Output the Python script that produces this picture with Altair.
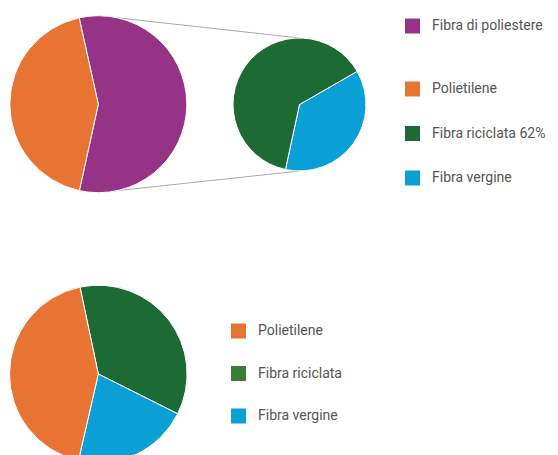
import math
import altair as alt
import pandas as pd

# ---- data ----
top_cats = ["Fibra di poliestere", "Polietilene"]
top_vals = [56.9, 43.1]

right_cats = ["Fibra vergine", "Fibra riciclata 62%"]
right_vals = [36.7, 63.3]

bottom_cats = ["Fibra riciclata", "Fibra vergine", "Polietilene"]
bottom_vals = [35.7, 21.2, 43.1]

legend_top1 = ["Fibra di poliestere"]
legend_top2 = ["Polietilene", "Fibra riciclata 62%", "Fibra vergine"]
legend_bottom = ["Polietilene", "Fibra riciclata", "Fibra vergine"]

PURPLE = "#973387"
ORANGE = "#E87434"
GREEN = "#1D6B34"
GREEN_LIGHT = "#3A7D35"
BLUE = "#0AA0D6"

FONT = "Roboto, Liberation Sans, sans-serif"
FS = 14

# ---- layout ----
W, H = 542, 447
c1 = (90.3, 96.2, 88.5)    # top-left pie: cx, cy, r
c2 = (291.5, 96.5, 66.5)   # right pie
c3 = (90.3, 366.0, 88.8)   # bottom pie


def deg(a):
    return a * math.pi / 180


def pie(cats, vals, colors, center, start_deg):
    df = pd.DataFrame({"cat": cats, "val": vals, "ord": list(range(len(cats)))})
    cx, cy, r = center
    s = deg(start_deg)
    return alt.Chart(df).mark_arc(radius=r, stroke="white", strokeWidth=1).encode(
        theta=alt.Theta("val:Q", stack=True, scale=alt.Scale(range=[s, s + 2 * math.pi])),
        order=alt.Order("ord:Q"),
        color=alt.Color("cat:N", scale=alt.Scale(domain=cats, range=colors), legend=None),
        x=alt.value(cx),
        y=alt.value(cy),
    )


def legend_layer(cats, colors, lx, ly, row_pad):
    df = pd.DataFrame({"cat": cats})
    return alt.Chart(df).mark_square(opacity=0, size=0).encode(
        color=alt.Color(
            "cat:N",
            scale=alt.Scale(domain=cats, range=colors),
            sort=cats,
            legend=alt.Legend(
                orient="none", legendX=lx, legendY=ly, title=None,
                symbolType="square", symbolSize=225, symbolStrokeWidth=0,
                symbolOpacity=1, labelFont=FONT, labelFontSize=FS,
                labelColor="#555555", labelOffset=12, rowPadding=row_pad,
                padding=0, labelLimit=300,
            ),
        ),
        x=alt.value(0),
        y=alt.value(0),
    )


p1 = pie(top_cats, top_vals, [PURPLE, ORANGE], c1, -12.5)
p2 = pie(right_cats, right_vals, [BLUE, GREEN], c2, 60.1)
p3 = pie(bottom_cats, bottom_vals, [GREEN, BLUE, ORANGE], c3, -11.9)

# connector lines from pie tops/bottoms
line_top = alt.Chart(pd.DataFrame({"k": ["top"]})).mark_rule(color="#aaaaaa", strokeWidth=1).encode(
    x=alt.value(c1[0]), y=alt.value(c1[1] - c1[2]),
    x2=alt.value(c2[0]), y2=alt.value(c2[1] - c2[2]),
)
line_bot = alt.Chart(pd.DataFrame({"k": ["bottom"]})).mark_rule(color="#aaaaaa", strokeWidth=1).encode(
    x=alt.value(c1[0]), y=alt.value(c1[1] + c1[2]),
    x2=alt.value(c2[0]), y2=alt.value(c2[1] + c2[2]),
)

l1 = legend_layer(legend_top1, [PURPLE], 397, 10.5, 29.5)
l2 = legend_layer(legend_top2, [ORANGE, GREEN, BLUE], 397, 73.5, 29.5)
l3 = legend_layer(legend_bottom, [ORANGE, GREEN_LIGHT, BLUE], 223, 315.5, 27.5)

chart = alt.layer(line_top, line_bot, p1, p2, p3, l1, l2, l3).resolve_scale(
    color="independent", theta="independent"
).properties(
    width=W, height=H, padding=0,
    autosize=alt.AutoSizeParams(type="none"),
).configure_view(stroke=None)

chart.save("out.html", embed_options={"renderer": "svg", "actions": False})
